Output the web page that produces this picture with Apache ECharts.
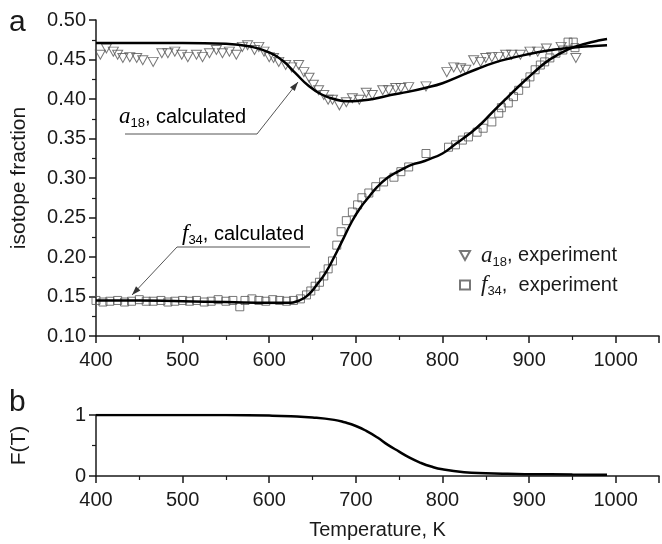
<!DOCTYPE html>
<html><head><meta charset="utf-8">
<script src="https://cdn.jsdelivr.net/npm/echarts@6/dist/echarts.min.js"></script>
<style>html,body{margin:0;padding:0;background:#fff}#c{width:662px;height:544px}</style>
</head><body><div id="c"></div>
<script>
// ---- data ----
const a18CalcT = [400,450,500,550,580,600,615,630,645,660,675,690,705,720,740,760,780,800,820,840,860,880,900,920,940,960,975,990];
const a18CalcV = [0.471,0.471,0.471,0.470,0.466,0.459,0.449,0.433,0.417,0.406,0.400,0.397,0.398,0.400,0.405,0.409,0.414,0.420,0.429,0.438,0.446,0.452,0.457,0.461,0.464,0.466,0.467,0.468];

const f34CalcT = [400,450,500,550,600,620,635,645,655,665,675,685,695,705,715,725,735,745,755,765,775,785,800,815,830,845,860,875,890,905,920,935,950,965,980,990];
const f34CalcV = [0.145,0.145,0.144,0.143,0.142,0.142,0.145,0.152,0.165,0.180,0.200,0.222,0.244,0.262,0.276,0.289,0.299,0.306,0.312,0.317,0.320,0.324,0.331,0.343,0.355,0.369,0.386,0.402,0.418,0.433,0.447,0.457,0.465,0.470,0.474,0.476];

const fTT = [400,500,550,600,625,650,675,687,700,712,725,737,750,762,775,787,800,825,850,875,900,950,990];
const fTV = [1.0,1.0,0.998,0.99,0.98,0.96,0.92,0.88,0.82,0.74,0.63,0.51,0.40,0.30,0.215,0.155,0.11,0.063,0.045,0.035,0.03,0.025,0.022];

const a18ExpT = [405,412,420,425,431,439,447,454,466,476,483,491,499,506,516,523,531,539,546,554,562,569,575,583,588,594,600,605,611,619,626,634,640,646,651,657,663,668,673,681,689,696,704,712,719,731,738,746,752,761,781,805,813,821,827,836,844,850,857,865,873,880,890,901,910,920,937,954];
const a18ExpV = [0.456,0.464,0.460,0.456,0.452,0.453,0.452,0.449,0.447,0.458,0.458,0.460,0.456,0.453,0.456,0.453,0.458,0.462,0.458,0.460,0.456,0.466,0.468,0.462,0.466,0.460,0.453,0.452,0.447,0.443,0.440,0.443,0.434,0.427,0.418,0.411,0.405,0.399,0.399,0.392,0.396,0.401,0.399,0.408,0.405,0.411,0.411,0.414,0.414,0.415,0.416,0.434,0.440,0.439,0.437,0.449,0.447,0.452,0.453,0.453,0.456,0.456,0.456,0.460,0.460,0.464,0.466,0.452];

const f34ExpT = [400,408,416,425,433,441,450,458,466,475,483,491,500,508,516,525,533,541,550,558,566,572,580,588,596,604,612,620,628,636,643,648,653,658,663,668,673,678,683,689,696,702,707,715,723,732,744,752,761,781,807,815,823,830,840,847,857,865,868,876,882,888,896,901,907,913,918,924,931,939,945,951,953];
const f34ExpV = [0.145,0.143,0.144,0.145,0.143,0.144,0.146,0.144,0.144,0.145,0.143,0.144,0.145,0.144,0.145,0.143,0.144,0.146,0.144,0.145,0.137,0.145,0.147,0.145,0.144,0.146,0.145,0.144,0.145,0.147,0.152,0.157,0.163,0.168,0.176,0.185,0.195,0.215,0.232,0.246,0.257,0.266,0.275,0.281,0.289,0.295,0.301,0.308,0.314,0.331,0.339,0.342,0.348,0.352,0.358,0.363,0.371,0.382,0.389,0.395,0.403,0.411,0.420,0.428,0.437,0.443,0.447,0.452,0.458,0.462,0.472,0.472,0.465];

const topYTicks = {min:0.10, max:0.50, step:0.05};
const xTicks = {min:400, max:1050, step:100};

const zip = (a,b) => a.map((v,i)=>[v,b[i]]);

const FONT = 'Liberation Sans';
const INK = '#1a1a1a';
const rich = {
  it:{fontFamily:'Liberation Serif',fontStyle:'italic',fontSize:23,color:INK,lineHeight:26},
  sub:{fontFamily:FONT,fontSize:13,color:INK,lineHeight:12,verticalAlign:'bottom'},
  n:{fontFamily:FONT,fontSize:20,color:INK,lineHeight:26}
};

const axisCommon = {
  axisLine:{show:true,onZero:false,lineStyle:{color:INK,width:1.5}},
  axisTick:{show:true,inside:false,length:7,lineStyle:{color:INK,width:1.5}},
  minorTick:{show:true,splitNumber:2,length:4,lineStyle:{color:INK,width:1.2}},
  splitLine:{show:false},
  axisLabel:{color:INK,fontFamily:FONT,fontSize:20}
};

const chart = echarts.init(document.getElementById('c'),null,{renderer:'canvas'});
const option = {
  animation:false,
  backgroundColor:'#fff',
  grid:[
    {left:96,right:0,top:20,height:316},
    {left:96,right:0,top:415,height:61}
  ],
  xAxis:[
    Object.assign({},axisCommon,{gridIndex:0,type:'value',min:xTicks.min,max:xTicks.max,interval:xTicks.step,
      axisLabel:Object.assign({},axisCommon.axisLabel,{margin:14,formatter:v=>v%100===0?String(v):''})}),
    Object.assign({},axisCommon,{gridIndex:1,type:'value',min:xTicks.min,max:xTicks.max,interval:xTicks.step,
      name:'Temperature, K',nameLocation:'middle',nameGap:44,nameTextStyle:{color:INK,fontFamily:FONT,fontSize:20},
      axisLabel:Object.assign({},axisCommon.axisLabel,{margin:14,formatter:v=>v%100===0?String(v):''})})
  ],
  yAxis:[
    Object.assign({},axisCommon,{gridIndex:0,type:'value',min:topYTicks.min,max:topYTicks.max,interval:topYTicks.step,
      name:'isotope fraction',nameLocation:'middle',nameGap:66,nameTextStyle:{color:INK,fontFamily:FONT,fontSize:21},
      axisLabel:Object.assign({},axisCommon.axisLabel,{margin:10,formatter:v=>v.toFixed(2)})}),
    Object.assign({},axisCommon,{gridIndex:1,type:'value',min:0,max:1,interval:1,
      name:'F(T)',nameLocation:'middle',nameGap:66,nameTextStyle:{color:INK,fontFamily:FONT,fontSize:21},
      axisLabel:Object.assign({},axisCommon.axisLabel,{margin:10})})
  ],
  legend:{
    orient:'vertical',left:454,top:239,itemWidth:10,itemHeight:9,itemGap:5,
    data:['a18, experiment','f34, experiment'],
    formatter:name=> name.startsWith('a18') ? '{it|a}{sub|18}{n|, experiment}' : '{it|f}{sub|34}{n|,  experiment}',
    textStyle:{rich:{it:Object.assign({},rich.it,{padding:[0,0,0,6]}),sub:rich.sub,n:rich.n}}
  },
  series:[
    {name:'a18, experiment',type:'scatter',xAxisIndex:0,yAxisIndex:0,data:zip(a18ExpT,a18ExpV),
      symbol:'path://M0,0L10,0L5,9Z',symbolSize:[10,9],
      itemStyle:{color:'rgba(255,255,255,0)',borderColor:'#555',borderWidth:1}},
    {name:'f34, experiment',type:'scatter',xAxisIndex:0,yAxisIndex:0,data:zip(f34ExpT,f34ExpV),
      symbol:'rect',symbolSize:8,
      itemStyle:{color:'rgba(255,255,255,0)',borderColor:'#555',borderWidth:1}},
    {name:'a18 calc',type:'line',xAxisIndex:0,yAxisIndex:0,data:zip(a18CalcT,a18CalcV),smooth:true,showSymbol:false,
      lineStyle:{color:'#000',width:2.5},z:5},
    {name:'f34 calc',type:'line',xAxisIndex:0,yAxisIndex:0,data:zip(f34CalcT,f34CalcV),smooth:true,showSymbol:false,
      lineStyle:{color:'#000',width:2.5},z:5},
    {name:'F(T)',type:'line',xAxisIndex:1,yAxisIndex:1,data:zip(fTT,fTV),smooth:true,showSymbol:false,
      lineStyle:{color:'#000',width:2.5},z:5}
  ],
  graphic:[
    {type:'text',x:9,y:8,style:{text:'a',fontFamily:FONT,fontSize:30,fill:INK,verticalAlign:'top'}},
    {type:'text',x:9,y:388,style:{text:'b',fontFamily:FONT,fontSize:30,fill:INK,verticalAlign:'top'}},
    {type:'text',x:119,y:117,style:{text:'{it|a}{sub|18}{n|, calculated}',rich:rich,verticalAlign:'middle'}},
    {type:'polyline',shape:{points:[[125,134],[257,134],[298,82]]},style:{stroke:'#555',lineWidth:1,fill:null}},
    {type:'polygon',shape:{points:[[298,82],[294.8,91.0],[290.0,87.2]]},style:{fill:'#333'}},
    {type:'text',x:182,y:234,style:{text:'{it|f}{sub|34}{n|, calculated}',rich:rich,verticalAlign:'middle'}},
    {type:'polyline',shape:{points:[[310,247],[177,247],[132,295]]},style:{stroke:'#555',lineWidth:1,fill:null}},
    {type:'polygon',shape:{points:[[132,295],[140.4,290.5],[136.0,286.3]]},style:{fill:'#333'}}
  ]
};
chart.setOption(option);
</script></body></html>
